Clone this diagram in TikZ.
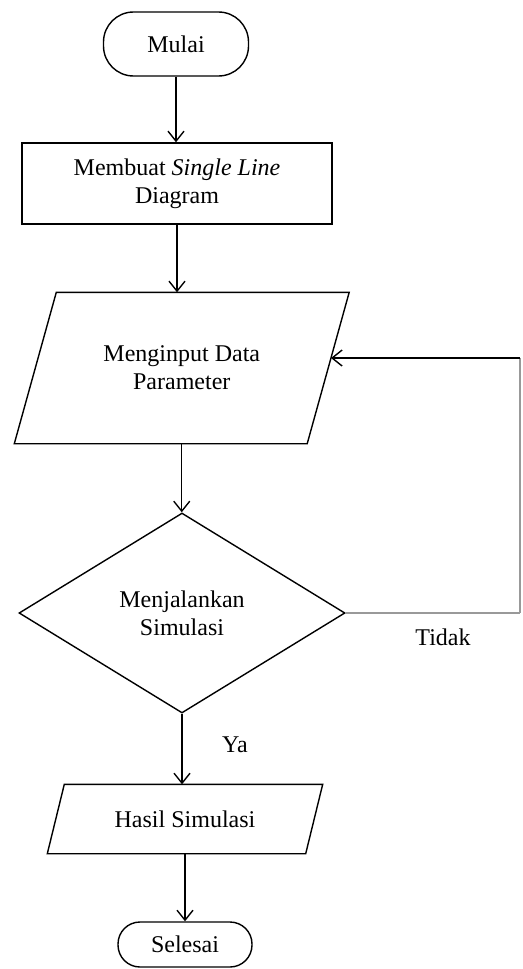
\documentclass[tikz,border=0pt]{standalone}
\usepackage{fontspec}
\setmainfont{Liberation Serif}
\usetikzlibrary{shapes.geometric,arrows.meta}

\begin{document}
\begin{tikzpicture}[x=0.5pt,y=-0.5pt,
  font=\fontsize{12}{14}\selectfont,
  line width=0.7pt,
  >={Straight Barb[length=5pt,width=8pt]},
  terminal/.style={draw,rounded corners=15pt,minimum width=72.5pt,minimum height=32pt,inner sep=0pt},
  proses/.style={draw,rectangle,minimum width=155pt,minimum height=40.5pt,align=center,inner sep=0pt},
  data/.style={rectangle,align=center,inner sep=0pt},
  keputusan/.style={draw,diamond,minimum width=163pt,minimum height=100pt,align=center,inner sep=0pt},
  balik/.style={draw=gray!80,line width=1pt}]
\useasboundingbox (0,0) rectangle (523,969);
\draw (176,44) node[terminal](mulai) {Mulai};
\draw (177,183.5) node[proses](diagram) {Membuat \textit{Single Line}\\Diagram};
\draw (181.75,368) node[data,minimum width=145.75pt,minimum height=75pt](input) {Menginput Data\\Parameter};
\draw (182,613) node[keputusan](simulasi) {Menjalankan\\Simulasi};
\draw (185,819) node[data,minimum width=128.5pt,minimum height=34pt](hasil) {Hasil Simulasi};
\draw (185,944.5) node[terminal,rounded corners=11pt,minimum width=67pt,minimum height=22.5pt](selesai) {Selesai};
\draw (235,745) node(ya) {Ya};
\draw (443,637) node(tidak) {Tidak};
% jajaran genjang
\draw ([xshift=-10.5pt]input.south west) -- ([xshift=10.5pt]input.north west) -- ([xshift=10.5pt]input.north east) -- ([xshift=-10.5pt]input.south east) -- cycle;
\draw ([xshift=-4.25pt]hasil.south west) -- ([xshift=4.25pt]hasil.north west) -- ([xshift=4.25pt]hasil.north east) -- ([xshift=-4.25pt]hasil.south east) -- cycle;
\coordinate (pojok1) at (520,613);
\coordinate (pojok2) at (520,358);
\coordinate (masuk) at (331,358);
\draw[->] (mulai.south) -- (mulai.south |- diagram.north);
\draw[->] (diagram.south) -- (diagram.south |- input.north);
\draw[->] (input.south) -- (input.south |- simulasi.north);
\draw[->] (simulasi.south) -- (simulasi.south |- hasil.north);
\draw[->] (hasil.south) -- (hasil.south |- selesai.north);
\draw[balik] (simulasi.east) -- (pojok1);
\draw[draw=gray!80] (pojok1) -- (pojok2);
\draw[->] (pojok2) -- (masuk);
\end{tikzpicture}
\end{document}
